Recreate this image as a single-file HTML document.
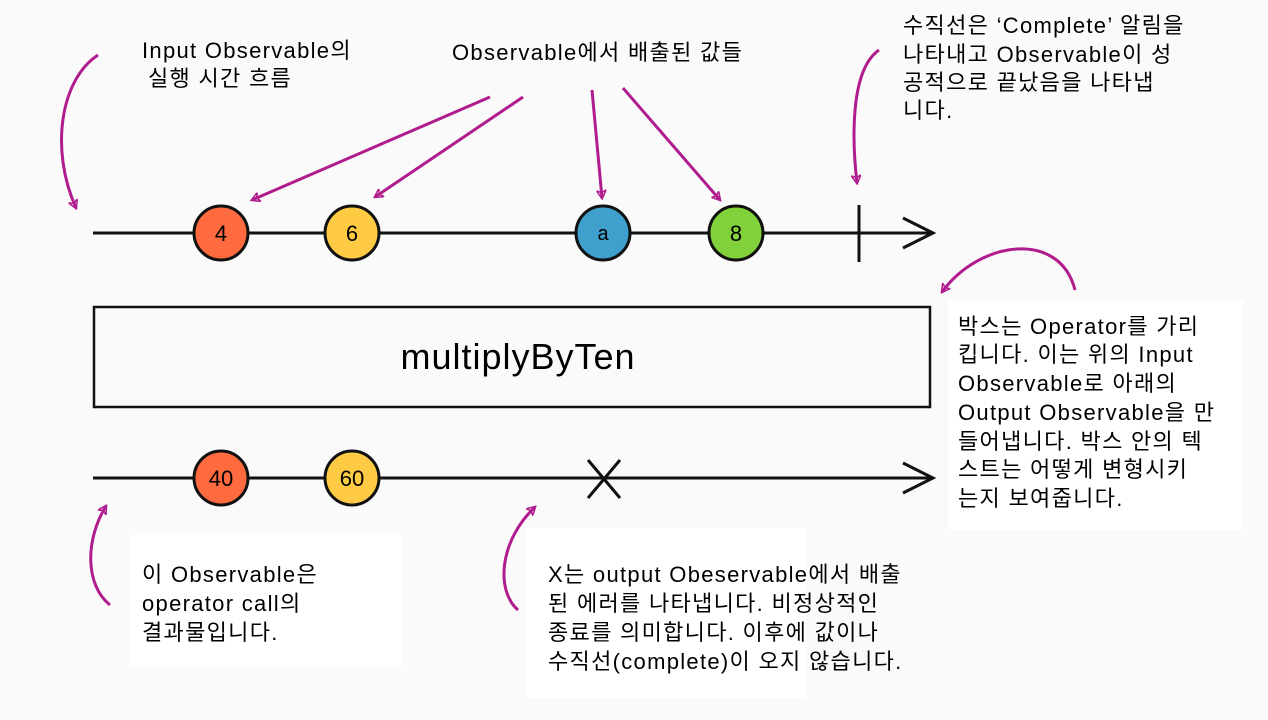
<!DOCTYPE html>
<html><head><meta charset="utf-8"><style>
html,body{margin:0;padding:0;background:#fafafa;}
svg{display:block}
text{font-family:"Liberation Sans","Noto Sans CJK KR",sans-serif;font-size:22px;letter-spacing:1.3px;fill:#000}
</style></head><body>
<svg width="1268" height="720" viewBox="0 0 1268 720" xmlns="http://www.w3.org/2000/svg">
<defs>
<marker id="ah" markerWidth="10" markerHeight="10" refX="8" refY="5" orient="auto" markerUnits="userSpaceOnUse" viewBox="0 0 10 10">
<path d="M0,0 L9,5 L0,10 L3,5 Z" fill="none" stroke="#b01c8e" stroke-width="1.5"/>
</marker>
</defs>
<rect x="130" y="535" width="272" height="132" fill="#fff"/>
<rect x="526" y="528" width="280" height="170" fill="#fff"/>
<rect x="948" y="300" width="295" height="230" fill="#fff"/>
<g stroke="#b01c8e" stroke-width="3" fill="none" marker-end="url(#ah)">
<path d="M98,55 C60,80 50,150 76,208"/>
<path d="M490,97 L252,200"/>
<path d="M523,97 L375,197"/>
<path d="M592,90 L602,198"/>
<path d="M623,88 L720,200"/>
<path d="M879,50 C850,70 852,140 857,183"/>
<path d="M1075,290 C1060,230 980,240 942,292"/>
<path d="M110,605 C85,585 85,540 106,506"/>
<path d="M518,610 C495,590 500,540 535,507"/>
</g>
<g stroke="#111" stroke-width="3" fill="none">
<line x1="93" y1="233" x2="933" y2="233"/>
<polyline points="903,218 933,233 903,248"/>
<line x1="859" y1="205" x2="859" y2="262"/>
<line x1="93" y1="478" x2="933" y2="478"/>
<polyline points="903,463 933,478 903,493"/>
<line x1="588" y1="460" x2="620" y2="498"/>
<line x1="620" y1="460" x2="588" y2="498"/>
<rect x="94" y="307" width="836" height="100" stroke-width="2.5"/>
</g>
<g stroke="#111" stroke-width="3">
<circle cx="221" cy="233" r="27" fill="#ff6a3e"/>
<circle cx="352" cy="233" r="27" fill="#ffcb45"/>
<circle cx="603" cy="233" r="27" fill="#3fa0cd"/>
<circle cx="736" cy="233" r="27" fill="#80d13a"/>
<circle cx="221" cy="478" r="27" fill="#ff6a3e"/>
<circle cx="352" cy="478" r="27" fill="#ffcb45"/>
</g>
<g text-anchor="middle">
<text x="221" y="241" style="font-size:22px;letter-spacing:0">4</text>
<text x="352" y="241" style="font-size:22px;letter-spacing:0">6</text>
<text x="603" y="240" style="font-size:20px;letter-spacing:0">a</text>
<text x="736" y="241" style="font-size:22px;letter-spacing:0">8</text>
<text x="221" y="486" style="font-size:22px;letter-spacing:0">40</text>
<text x="352" y="486" style="font-size:22px;letter-spacing:0">60</text>
<text x="518" y="369" style="font-size:36px;letter-spacing:1px">multiplyByTen</text>
</g>
<text x="142" y="58">Input Observable의</text>
<text x="148" y="86">실행 시간 흐름</text>
<text x="452" y="60">Observable에서 배출된 값들</text>
<text x="903" y="33">수직선은 ‘Complete’ 알림을</text>
<text x="903" y="62">나타내고 Observable이 성</text>
<text x="903" y="90">공적으로 끝났음을 나타냅</text>
<text x="903" y="118">니다.</text>
<text x="958" y="334">박스는 Operator를 가리</text>
<text x="958" y="362">킵니다. 이는 위의 Input</text>
<text x="958" y="391">Observable로 아래의</text>
<text x="958" y="420">Output Observable을 만</text>
<text x="958" y="449">들어냅니다. 박스 안의 텍</text>
<text x="958" y="477">스트는 어떻게 변형시키</text>
<text x="958" y="506">는지 보여줍니다.</text>
<text x="142" y="582">이 Observable은</text>
<text x="142" y="611">operator call의</text>
<text x="142" y="640">결과물입니다.</text>
<text x="548" y="582">X는 output Obeservable에서 배출</text>
<text x="548" y="611">된 에러를 나타냅니다. 비정상적인</text>
<text x="548" y="640">종료를 의미합니다. 이후에 값이나</text>
<text x="548" y="669">수직선(complete)이 오지 않습니다.</text>
</svg>
</body></html>
